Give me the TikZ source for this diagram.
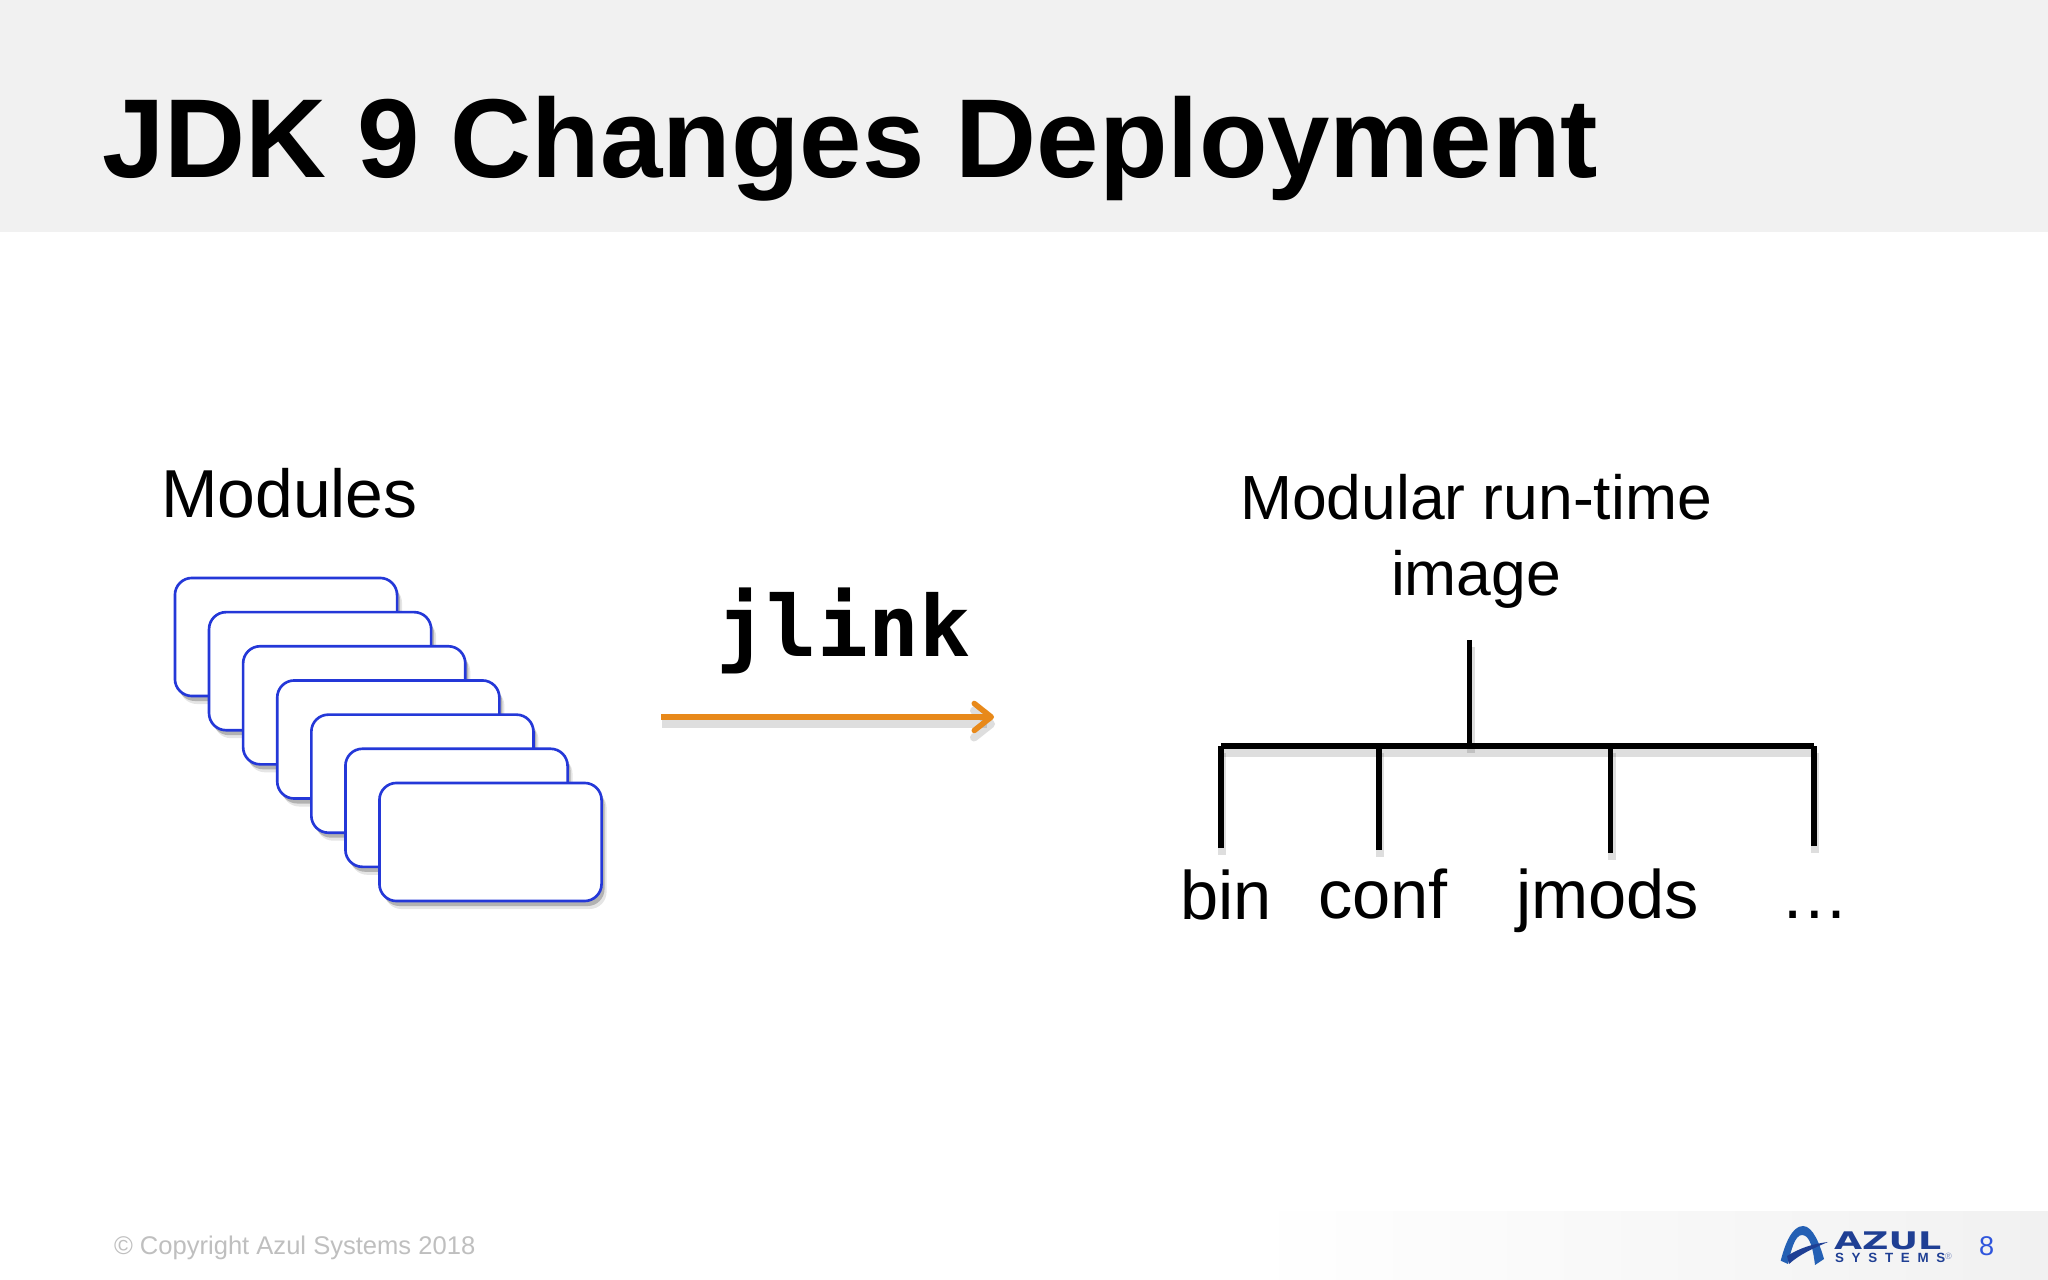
\documentclass[tikz,border=0pt]{standalone}
\usepackage{fontspec}
\setmainfont{Liberation Sans}
\newfontfamily\jlinkfont{DejaVu Sans Mono}
\newfontfamily\logofont{DejaVu Sans}
\newfontfamily\logospaced[LetterSpace=58]{Liberation Sans}
\usetikzlibrary{shapes,shadows,arrows.meta,calc}
\definecolor{headgray}{HTML}{F1F1F1}
\definecolor{modblue}{HTML}{2438D8}
\definecolor{arroworange}{HTML}{E8891A}
\definecolor{azulblue}{HTML}{2460B4}
\definecolor{azulnavy}{HTML}{1F3F94}
\definecolor{pageblue}{HTML}{2F55DC}
\tikzset{
  x=0.01cm, y=-0.01cm,
  textnode/.style = {anchor=base west, inner sep=0pt, outer sep=0pt},
  label_n/.style = {textnode, font=\fontsize{19.5}{23}\selectfont},
  mod_box/.style = {draw=modblue, fill=white, line width=0.75pt, rounded corners=0.17cm, minimum width=2.22cm, minimum height=1.18cm, inner sep=0pt, outer sep=0pt,
    drop shadow={shadow xshift=0.05cm, shadow yshift=-0.08cm, opacity=0.1, fill=black},
    drop shadow={shadow xshift=0.03cm, shadow yshift=-0.05cm, opacity=0.22, fill=black}},
  tree_line/.style = {draw=black, line width=0.058cm, line cap=butt,
    preaction={draw=black, opacity=0.13, line width=0.08cm, transform canvas={xshift=0.01cm, yshift=-0.07cm}}},
  link_arrow/.style = {draw=arroworange, line width=0.055cm,
    -{Straight Barb[length=0.17cm, width=0.27cm, round]},
    preaction={draw=black, opacity=0.13, line width=0.08cm, transform canvas={xshift=0.01cm, yshift=-0.07cm}}}
}
\begin{document}
\begin{tikzpicture}
	\useasboundingbox (0,0) rectangle (2048,1280);
	\fill [white] (0,0) rectangle (2048,1280);
	\fill [headgray] (0,0) rectangle (2048,232);
	\shade [left color=white, right color=headgray, draw=none] (1250,1212) rectangle (2048,1280);

	\node [textnode, font=\fontsize{31.9}{38}\selectfont\bfseries] (title) at (102,178) {JDK 9 Changes Deployment};
	\node [textnode, font=\fontsize{19.3}{23}\selectfont] (modules) at (161,518) {Modules};

	\node [mod_box] (mod1) at (286,637) {};
	\node [mod_box] (mod2) at (320.1,671.2) {};
	\node [mod_box] (mod3) at (354.2,705.3) {};
	\node [mod_box] (mod4) at (388.3,739.5) {};
	\node [mod_box] (mod5) at (422.4,773.7) {};
	\node [mod_box] (mod6) at (456.5,807.8) {};
	\node [mod_box] (mod7) at (490.5,842) {};

	\node [textnode, font=\fontsize{24}{28}\jlinkfont\bfseries] (jlink) at (716,657) {jlink};
	\coordinate (link_start) at (661,717);
	\coordinate (link_end) at (994,717);
	\draw [link_arrow] (link_start) -- (link_end);

	\node [font=\fontsize{17.75}{21.6}\selectfont, align=center, inner sep=0pt] (image) at (1476,541.5) {Modular run-time\\image};

	\coordinate (tree_top) at (1469.5,640);
	\coordinate (tree_mid) at (1469.5,746);
	\coordinate (bar_bin) at (1221,746);
	\coordinate (bar_conf) at (1379,746);
	\coordinate (bar_jmods) at (1610.5,746);
	\coordinate (bar_more) at (1814,746);
	\coordinate (leg_bin) at (1221,848);
	\coordinate (leg_conf) at (1379,850);
	\coordinate (leg_jmods) at (1610.5,853);
	\coordinate (leg_more) at (1814,846);
	\draw [tree_line] (bar_bin) -- (bar_more);
	\draw [tree_line] (tree_top) -- (tree_mid);
	\draw [tree_line] (bar_bin) -- (leg_bin);
	\draw [tree_line] (bar_conf) -- (leg_conf);
	\draw [tree_line] (bar_jmods) -- (leg_jmods);
	\draw [tree_line] (bar_more) -- (leg_more);

	\node [label_n] (bin) at (1180,920) {bin};
	\node [label_n] (conf) at (1318,919) {conf};
	\node [label_n] (jmods) at (1516,919) {jmods};
	\node [label_n] (more) at (1780,919) {…};

	\node [textnode, text=black!25, font=\fontsize{7.27}{9}\selectfont] (copyright) at (114,1254.5) {© Copyright Azul Systems 2018};

	\fill [azulblue] (1780.7,1260.7) .. controls (1785,1244) and (1792,1226) .. (1803,1226) .. controls (1813,1226) and (1820,1245) .. (1824,1259) -- (1815,1265) .. controls (1813,1249) and (1810,1235) .. (1802,1235) .. controls (1795,1235) and (1791,1250) .. (1788,1264) -- cycle;
	\fill [azulnavy] (1787,1256) .. controls (1800,1248) and (1812,1244) .. (1828,1242) .. controls (1814,1248) and (1800,1254) .. (1789,1264) -- cycle;
	\node [textnode, text=azulnavy, font=\fontsize{6.9}{8}\logofont\bfseries] (azul) at (1834,1249.5) {\scalebox{1.5}[1]{AZUL}};
	\node [textnode, text=azulnavy, font=\fontsize{3.8}{4}\logospaced\bfseries] (systems) at (1835,1262.5) {SYSTEMS};
	\node [textnode, text=azulnavy!60, font=\fontsize{2.6}{3}\selectfont] (regmark) at (1945,1260) {®};
	\node [textnode, text=pageblue, font=\fontsize{7.7}{9}\selectfont] (pagenum) at (1979,1256) {8};
\end{tikzpicture}
\end{document}
